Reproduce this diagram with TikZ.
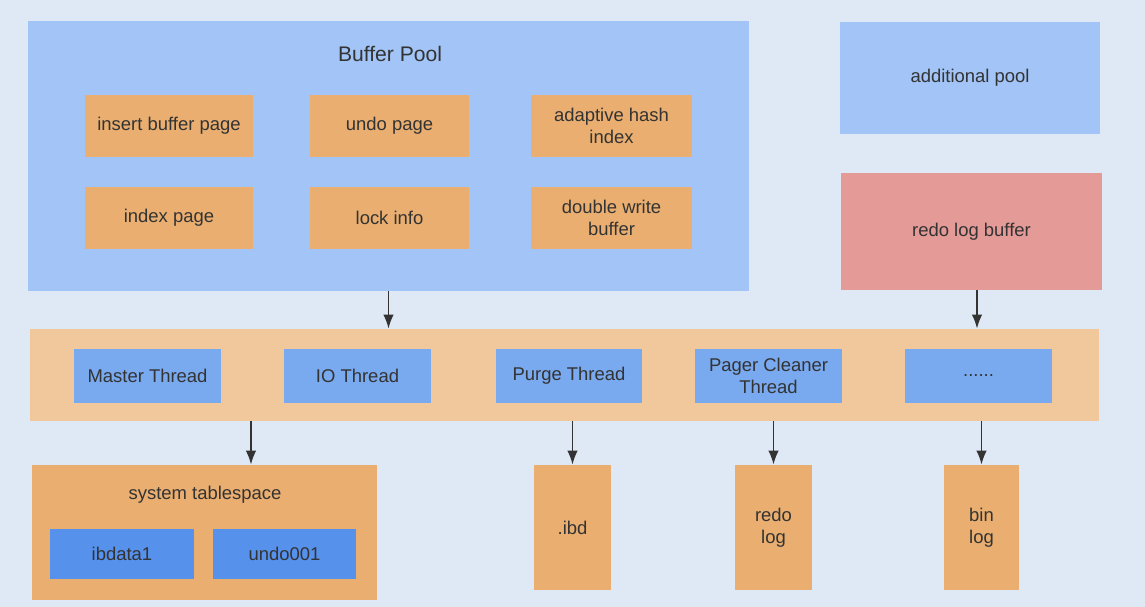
\documentclass[tikz,border=0pt]{standalone}
\usepackage{fontspec}
\setmainfont{Liberation Sans}
\usetikzlibrary{arrows.meta}
\definecolor{bgblue}{HTML}{DFE9F5}
\definecolor{poolblue}{HTML}{A2C4F6}
\definecolor{pageorange}{HTML}{E9AE70}
\definecolor{barorange}{HTML}{F0C89B}
\definecolor{threadblue}{HTML}{79A9EE}
\definecolor{fileblue}{HTML}{5691EC}
\definecolor{logred}{HTML}{E49A96}
\definecolor{txt}{HTML}{333333}
\newcommand\sixdots{......}

\begin{document}
\begin{tikzpicture}[x=0.02cm,y=-0.02cm,
    box/.style={inner sep=0pt, align=center, text=txt, font=\fontsize{10.5}{12.5}\selectfont},
    page/.style={box, fill=pageorange, minimum height=1.24cm},
    thrd/.style={box, fill=threadblue, minimum width=2.94cm, minimum height=1.08cm},
    logfile/.style={box, fill=pageorange, minimum width=1.54cm, minimum height=2.5cm},
    arr/.style={-{Latex[length=2.8mm,width=2.1mm]}, line width=1pt, draw=txt}]
  \fill[bgblue] (0,0) rectangle (1145,607);

  % buffer pool
  \node[box, fill=poolblue, minimum width=14.42cm, minimum height=5.4cm] (bp) at (388.5,156) {};
  \node[box, font=\fontsize{12}{14}\selectfont] (bptitle) at (390,54) {Buffer Pool};
  \foreach \n/\x/\y/\w/\t in {ibp/169/126/3.36/insert buffer page, undo/389.5/126/3.18/undo page,
      ahi/611.5/126/3.22/{adaptive hash\\index}, ixp/169/218/3.36/index page,
      lock/389.5/218/3.18/lock info, dwb/611.5/218/3.22/{double write\\buffer}}
    \node[page, minimum width=\w cm] (\n) at (\x,\y) {\t};

  \node[box, fill=poolblue, minimum width=5.2cm, minimum height=2.24cm] (ap) at (970,78) {additional pool};
  \node[box, fill=logred, minimum width=5.22cm, minimum height=2.34cm] (rlb) at (971.5,231.5) {redo log buffer};

  % threads
  \node[box, fill=barorange, minimum width=21.38cm, minimum height=1.84cm] (bar) at (564.5,375) {};
  \foreach \n/\x/\t in {mt/147.5/Master Thread, io/357.5/IO Thread, pt/569/Purge Thread,
      pc/768.5/{Pager Cleaner\\Thread}, etc/978.5/\sixdots}
    \node[thrd] (\n) at (\x,376) {\t};

  % files
  \node[box, fill=pageorange, minimum width=6.9cm, minimum height=2.7cm] (st) at (204.5,532.5) {};
  \node[box] (sttitle) at (205,495) {system tablespace};
  \node[box, fill=fileblue, minimum width=2.88cm, minimum height=1cm] (ibdata) at (122,554) {ibdata1};
  \node[box, fill=fileblue, minimum width=2.88cm, minimum height=1cm] (undof) at (284.5,554) {undo001};
  \node[logfile] (ibd) at (572.5,527.5) {.ibd};
  \node[logfile] (redo) at (773.5,527.5) {redo\\log};
  \node[logfile, minimum width=1.5cm] (bin) at (981.5,527.5) {bin\\log};

  \draw[arr] (bp.south) -- (bp.south |- bar.north);
  \draw[arr] ([xshift=0.11cm]rlb.south) -- ([xshift=0.11cm]rlb.south |- bar.north);
  \draw[arr] ([xshift=0.93cm]st.north |- bar.south) -- ([xshift=0.93cm]st.north);
  \foreach \n in {ibd,redo,bin}
    \draw[arr] (\n.north |- bar.south) -- (\n.north);
\end{tikzpicture}
\end{document}
